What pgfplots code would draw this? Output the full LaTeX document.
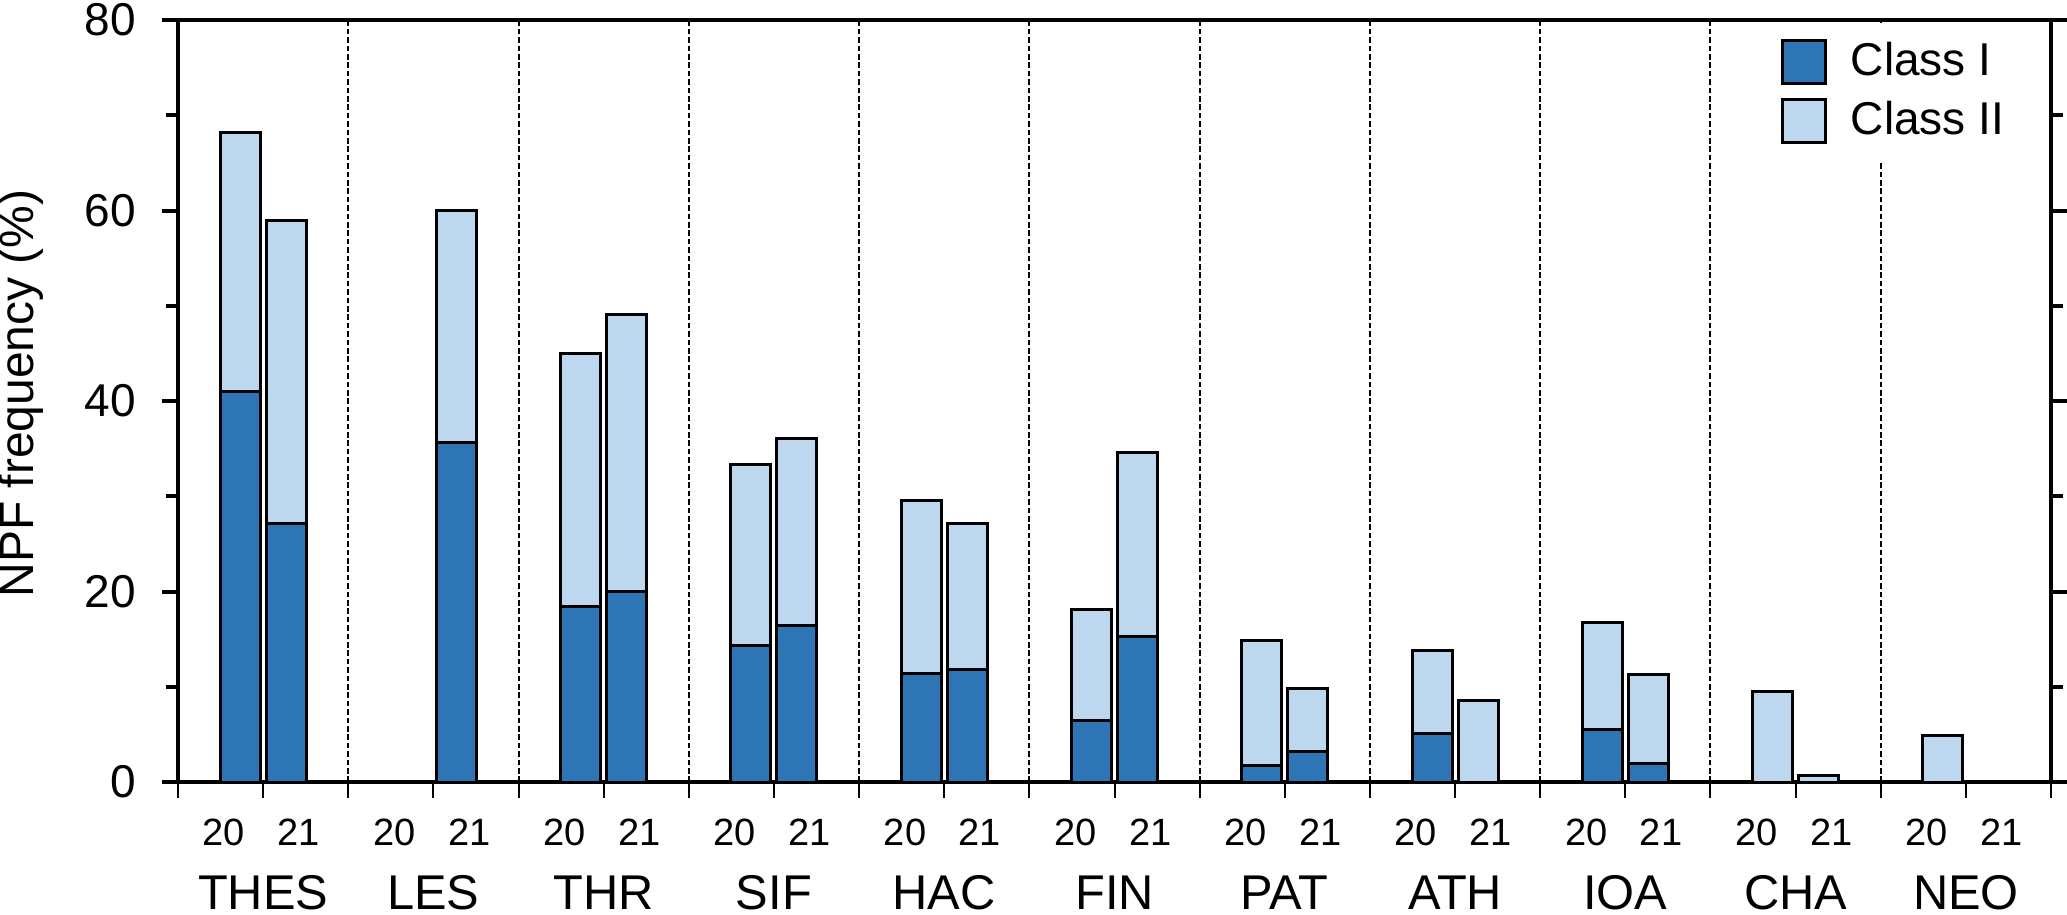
\documentclass[border=0pt]{standalone}
\usepackage{fontspec}
\setmainfont{Liberation Sans}
\usepackage{pgfplots}
\usepackage{pgfplotstable}
\pgfplotsset{compat=1.18}

\definecolor{classone}{HTML}{2E75B6}
\definecolor{classtwo}{HTML}{BDD7EE}

% x = bar centre (group g spans [g,g+1]); c1 = Class I, c2 = Class II (stacked)
\pgfplotstableread{
x      c1    c2
0.365  41.0  27.2
0.635  27.1  31.9
1.365  0     0
1.635  35.6  24.4
2.365  18.4  26.6
2.635  20.0  29.1
3.365  14.3  19.0
3.635  16.4  19.7
4.365  11.4  18.2
4.635  11.8  15.3
5.365  6.5   11.6
5.635  15.3  19.3
6.365  1.7   13.2
6.635  3.2   6.6
7.365  5.1   8.7
7.635  0     8.6
8.365  5.5   11.2
8.635  1.9   9.4
9.365  0     9.5
9.635  0     0.7
10.365 0     4.9
10.635 0     0
}\npf

\newcommand\yrfont{\fontsize{9.5}{11}\selectfont}
\newcommand\grpfont{\fontsize{12.2}{14}\selectfont}
% group labels: #1 = "20" x, #2 = centre x, #3 = "21" x, #4 = name
\newcommand\grp[4]{%
  \node[font=\yrfont, anchor=base, yshift=-15.75pt] at (axis cs:#1,0) {20};
  \node[font=\yrfont, anchor=base, yshift=-15.75pt] at (axis cs:#3,0) {21};
  \node[font=\grpfont, anchor=base, yshift=-31.75pt] at (axis cs:#2,0) {#4};}

\begin{document}
\begin{tikzpicture}
\useasboundingbox (-44.5pt,-33pt) rectangle (472.25pt,195.5pt);
\begin{axis}[
  at={(0,0)}, anchor=south west,
  scale only axis, width=468.25pt, height=190.5pt,
  xmin=0, xmax=11, ymin=0, ymax=80,
  enlargelimits=false, clip=false,
  ybar stacked, bar width=0.235,
  axis line style={line width=1.1pt},
  tick align=outside,
  xtick={0,0.5,...,11}, xticklabels={},
  xtick pos=bottom,
  x tick style={line width=0.5pt, black},
  extra x ticks={1,2,...,10}, extra x tick labels={},
  extra x tick style={grid=major,
    major grid style={black, line width=0.5pt, dash pattern=on 1.4pt off 0.7pt}},
  ytick={0,20,...,80}, minor ytick={10,30,50,70},
  ytick pos=both, yticklabel pos=left,
  y tick style={line width=1pt, black},
  major tick length=4pt, minor tick length=3pt,
  y tick label style={font=\fontsize{11.5}{13}\selectfont, xshift=-3pt},
  /pgf/number format/assume math mode=true,
  ylabel={NPF frequency (\%)},
  ylabel style={at={(axis description cs:-0.0838,0.51)}, anchor=center,
    font=\fontsize{12}{14}\selectfont},
  legend style={at={(axis description cs:0.8468,0.9974)}, anchor=north west,
    draw=none, fill=white, inner sep=4pt, /tikz/row sep=3.25pt,
    nodes={inner sep=0pt}, font=\fontsize{11.5}{13.8}\selectfont},
  legend cell align=left,
]
\addplot[fill=classone, draw=black, line width=0.75pt,
  legend image code/.code={\draw[fill=classone, draw=black, line width=0.75pt]
    (0pt,-5.375pt) rectangle (10.75pt,5.375pt); \path (16.75pt,0pt);}]
  table[x=x, y=c1] {\npf};
\addplot[fill=classtwo, draw=black, line width=0.75pt,
  legend image code/.code={\draw[fill=classtwo, draw=black, line width=0.75pt]
    (0pt,-5.375pt) rectangle (10.75pt,5.375pt); \path (16.75pt,0pt);}]
  table[x=x, y=c2] {\npf};
\legend{Class I, Class II}

\grp{0.27}{0.5}{0.71}{THES}
\grp{1.27}{1.5}{1.71}{LES}
\grp{2.27}{2.5}{2.71}{THR}
\grp{3.27}{3.5}{3.71}{SIF}
\grp{4.27}{4.5}{4.71}{HAC}
\grp{5.27}{5.5}{5.71}{FIN}
\grp{6.27}{6.5}{6.71}{PAT}
\grp{7.27}{7.5}{7.71}{ATH}
\grp{8.27}{8.5}{8.71}{IOA}
\grp{9.27}{9.5}{9.71}{CHA}
\grp{10.27}{10.5}{10.71}{NEO}
\end{axis}
\end{tikzpicture}
\end{document}
